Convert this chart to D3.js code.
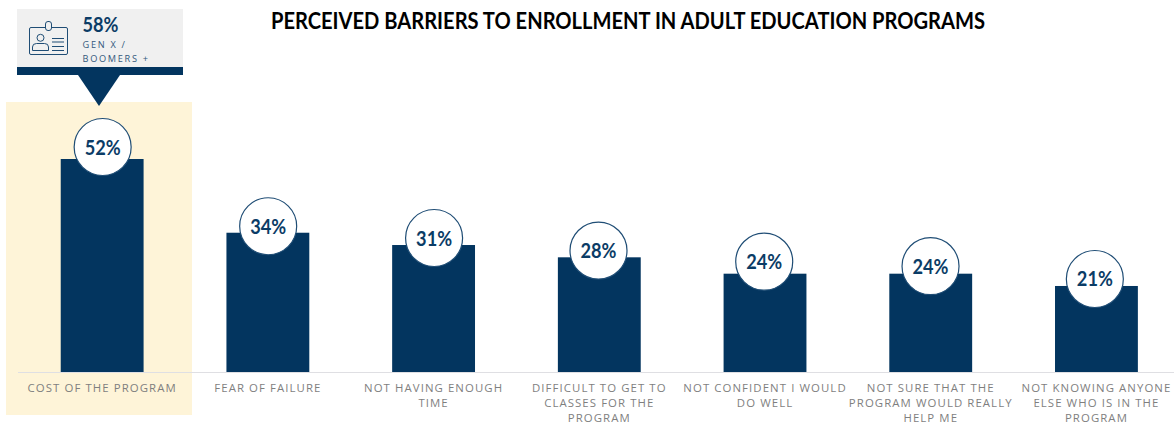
<!DOCTYPE html>
<html>
<head>
<meta charset="utf-8">
<script src="https://cdnjs.cloudflare.com/ajax/libs/d3/7.8.5/d3.min.js"></script>
<style>
html,body{margin:0;padding:0;background:#fff;}
svg{display:block;}
.cat{font-family:"Open Sans",sans-serif;font-size:11.4px;letter-spacing:1.08px;fill:#7f7f7f;text-anchor:middle;}
.val{font-family:Lato,sans-serif;font-weight:700;font-size:20px;fill:#0b3c66;text-anchor:middle;}
</style>
</head>
<body>
<svg id="chart" width="1174" height="425"></svg>
<script>
const chartTitle = "PERCEIVED BARRIERS TO ENROLLMENT IN ADULT EDUCATION PROGRAMS";
const categories = ["Cost","Fear","Time","Access","Confidence","Benefit","Peers"];
const values = [52, 34, 31, 28, 24, 24, 21];
const categoryLines = [
  ["COST OF THE PROGRAM"],
  ["FEAR OF FAILURE"],
  ["NOT HAVING ENOUGH","TIME"],
  ["DIFFICULT TO GET TO","CLASSES FOR THE","PROGRAM"],
  ["NOT CONFIDENT I WOULD","DO WELL"],
  ["NOT SURE THAT THE","PROGRAM WOULD REALLY","HELP ME"],
  ["NOT KNOWING ANYONE","ELSE WHO IS IN THE","PROGRAM"]
];
// hand-placed badge nudges relative to each bar's top centre, in pixels
const badgeLift = [12, 6.5, 7, 6.7, 12, 7.5, 7];
const badgeShift = [0.5, 0.3, 0.5, -0.8, -0.8, -0.2, -1.6];
const calloutValue = "58%";
const calloutLines = ["GEN X /","BOOMERS +"];

const navy = "#03355f";
const svg = d3.select("#chart");

const x = d3.scaleBand().domain(categories).range([19.3,1179.3]).paddingInner(0.5).paddingOuter(0.25);
const y = d3.scaleLinear().domain([0,52]).range([372,159]);

// highlight panel behind the first category
svg.append("rect").attr("x",6).attr("y",102).attr("width",186).attr("height",313).attr("fill","#fef4d8");

// baseline
svg.append("line").attr("x1",18).attr("x2",1174).attr("y1",372.5).attr("y2",372.5)
  .attr("stroke","#dfdfe3").attr("stroke-width",1);

svg.append("text").attr("x",628).attr("y",28.5).attr("text-anchor","middle")
  .attr("font-family","Lato,sans-serif").attr("font-weight",700).attr("font-size",22)
  .attr("textLength",714).attr("lengthAdjust","spacingAndGlyphs")
  .attr("fill","#000").text(chartTitle);

// bars
svg.selectAll("rect.bar").data(values).join("rect").attr("class","bar")
  .attr("x",(d,i)=>x(categories[i])).attr("width",x.bandwidth())
  .attr("y",d=>y(d)).attr("height",d=>y(0)-y(d)).attr("fill",navy);

// value badges
const badges = svg.selectAll("g.badge").data(values).join("g").attr("class","badge")
  .attr("transform",(d,i)=>`translate(${x(categories[i])+x.bandwidth()/2+badgeShift[i]},${y(d)-badgeLift[i]})`);
badges.append("circle").attr("r",28.5).attr("fill","#fff").attr("stroke","#1f4d75").attr("stroke-width",1.2);
badges.append("text").attr("class","val").attr("y",7.5)
  .attr("textLength",36).attr("lengthAdjust","spacingAndGlyphs").text(d=>d+"%");

// category labels
svg.selectAll("text.cat").data(categoryLines).join("text").attr("class","cat")
  .attr("transform",(d,i)=>`translate(${x(categories[i])+x.bandwidth()/2},391.5)`)
  .each(function(lines){
    d3.select(this).selectAll("tspan").data(lines).join("tspan")
      .attr("x",0).attr("y",(l,j)=>j*15).text(l=>l);
  });

// callout above the highlighted category
const callout = svg.append("g");
callout.append("rect").attr("x",17).attr("y",9).attr("width",166).attr("height",58).attr("fill","#f0f0f0");
callout.append("rect").attr("x",17).attr("y",67).attr("width",166).attr("height",8).attr("fill",navy);
callout.append("path").attr("d","M78,75L120,75L99,106Z").attr("fill",navy);
callout.append("text").attr("x",82.5).attr("y",32).attr("font-family","Lato,sans-serif")
  .attr("font-weight",700).attr("font-size",20).attr("textLength",36).attr("lengthAdjust","spacingAndGlyphs")
  .attr("fill","#0b3c66").text(calloutValue);
callout.selectAll("text.sub").data(calloutLines).join("text").attr("class","sub")
  .attr("x",82.5).attr("y",(d,i)=>47.5+i*14).attr("font-family","'Open Sans',sans-serif")
  .attr("font-size",9.2).attr("letter-spacing",1.7).attr("fill","#33587c").text(d=>d);

// ID badge icon
const icon = callout.append("g").attr("fill","none").attr("stroke","#1f4d75").attr("stroke-width",1);
icon.append("rect").attr("x",29.5).attr("y",27.5).attr("width",38).attr("height",27).attr("rx",1.5);
icon.append("rect").attr("x",45.5).attr("y",21.5).attr("width",6).attr("height",9).attr("rx",2.5).attr("fill","#f0f0f0");
icon.append("circle").attr("cx",40.5).attr("cy",37.8).attr("r",3.5);
icon.append("path").attr("d","M32.5,50.5L32.5,47Q32.5,43.5 36.5,43.5L44.5,43.5Q48.5,43.5 48.5,47L48.5,50.5Z");
icon.selectAll("line").data([38.5,42,46.5,50.5]).join("line")
  .attr("x1",52).attr("x2",64).attr("y1",d=>d).attr("y2",d=>d);
</script>
</body>
</html>
